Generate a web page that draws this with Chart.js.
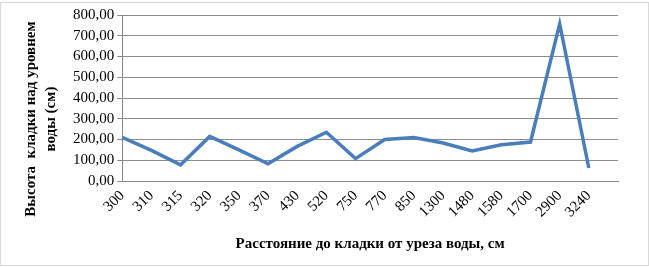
<!DOCTYPE html>
<html>
<head>
<meta charset="utf-8">
<script src="https://cdn.jsdelivr.net/npm/chart.js@4"></script>
<style>
  html, body { margin: 0; padding: 0; background: #fff; }
  #wrap { position: absolute; left: 0; top: 2px; width: 647px; height: 262px; border: 1px solid #d9d9d9; }
</style>
</head>
<body>
<div id="wrap"><canvas id="myChart" width="647" height="262"></canvas></div>
<script>
var distances = ["300","310","315","320","350","370","430","520","750","770","850","1300","1480","1580","1700","2900","3240",""];
var heights = [210, 148, 78, 215, 150, 83, 167, 235, 108, 200, 210, 183, 145, 175, 188, 757, 63, null];
var yTitle = ['Высота  кладки над уровнем', 'воды (см)'];

// y axis title is longer than the plot is tall, so draw it by hand
var yTitlePlugin = {
    id: 'yTitle',
    afterDraw: function (chart) {
        var c = chart.ctx;
        c.save();
        c.font = 'bold 15px "Liberation Serif"';
        c.fillStyle = '#000';
        c.textAlign = 'center';
        c.textBaseline = 'middle';
        c.translate(0, 116);
        c.rotate(-Math.PI / 2);
        c.fillText(yTitle[0], 0, 30);
        c.fillText(yTitle[1], 0, 50);
        c.restore();
    }
};

var ctx = document.getElementById('myChart').getContext('2d');
var myChart = new Chart(ctx, {
    type: 'line',
    data: {
        labels: distances,
        datasets: [{
            label: 'Высота',
            data: heights,
            borderColor: '#4a7ebb',
            borderWidth: 3.5,
            pointRadius: 0,
            tension: 0
        }]
    },
    options: {
        responsive: false,
        animation: false,
        layout: { padding: { left: 69, right: 30, top: 8, bottom: 8 } },
        plugins: {
            legend: { display: false },
            tooltip: { enabled: false }
        },
        scales: {
            x: {
                offset: false,
                grid: { display: false, drawTicks: false },
                border: { color: '#888' },
                ticks: {
                    color: '#000',
                    font: { family: 'Liberation Serif', size: 15 },
                    minRotation: 45,
                    maxRotation: 45,
                    padding: 6,
                    autoSkip: false
                },
                title: {
                    display: true,
                    text: 'Расстояние до кладки от уреза воды, см',
                    color: '#000',
                    font: { family: 'Liberation Serif', size: 15, weight: 'bold' },
                    padding: { top: 8 }
                }
            },
            y: {
                min: 0,
                max: 800,
                grid: { color: '#8c8c8c', tickLength: 5, tickColor: '#888' },
                border: { display: true, color: '#888' },
                ticks: {
                    stepSize: 100,
                    autoSkip: false,
                    color: '#000',
                    padding: 3,
                    font: { family: 'Liberation Serif', size: 15 },
                    callback: function (v) { return v.toFixed(2).replace('.', ','); }
                }
            }
        }
    },
    plugins: [yTitlePlugin]
});
</script>
</body>
</html>
